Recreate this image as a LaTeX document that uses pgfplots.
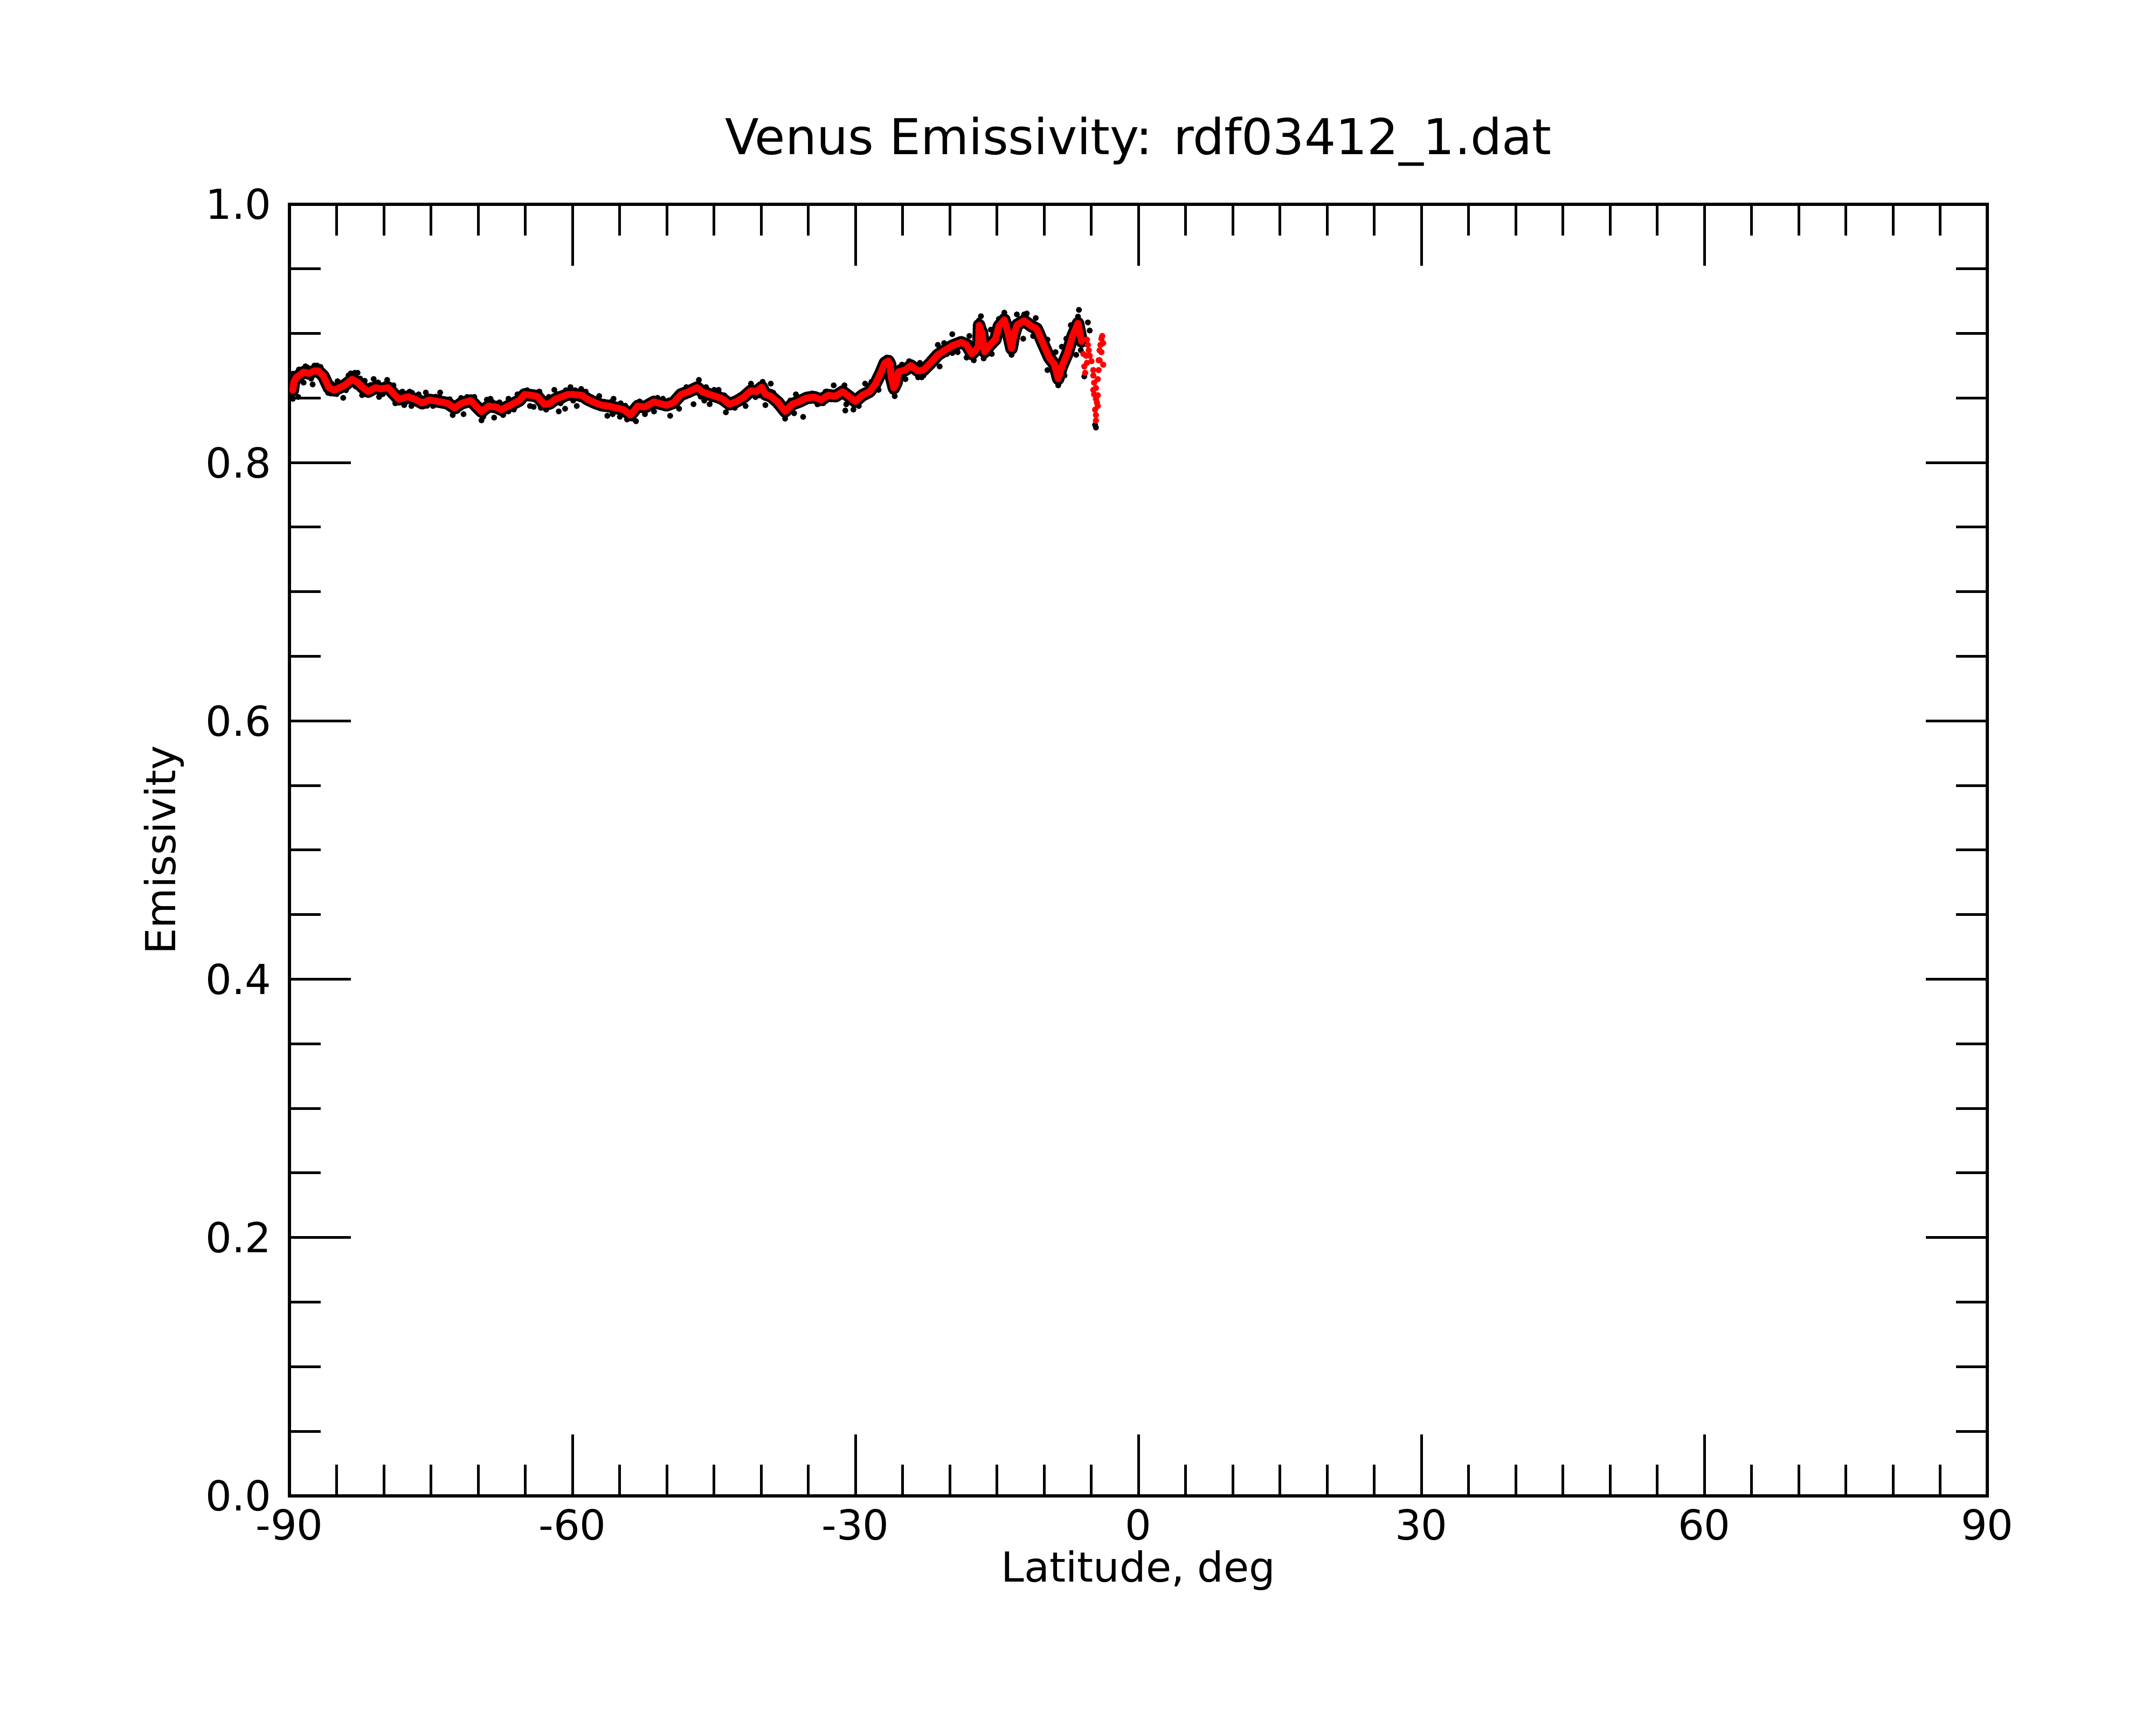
\documentclass[border=0pt]{standalone}
\usepackage{fontspec}
\setmainfont{DejaVu Sans}
\usepackage{pgfplots}
\usepackage{pgfplotstable}
\pgfplotsset{compat=1.18}

\pgfplotstableread{
lat e
-89.64 0.856
-89.54 0.862
-89.26 0.866
-88.50 0.870
-87.92 0.869
-87.35 0.871
-86.97 0.871
-86.40 0.867
-85.83 0.858
-85.26 0.856
-84.69 0.858
-84.11 0.860
-83.35 0.8645
-82.78 0.862
-82.21 0.858
-81.64 0.855
-80.88 0.858
-80.30 0.857
-79.54 0.858
-78.97 0.8534
-78.40 0.849
-77.45 0.851
-76.69 0.849
-75.92 0.846
-75.16 0.8485
-74.02 0.847
-73.26 0.846
-72.50 0.8423
-71.73 0.846
-70.78 0.848
-70.21 0.8437
-69.64 0.8395
-68.88 0.8437
-68.11 0.843
-67.54 0.841
-66.59 0.8444
-65.64 0.848
-65.07 0.8527
-64.30 0.852
-63.73 0.8513
-62.97 0.845
-62.40 0.8458
-61.83 0.849
-61.26 0.8506
-60.49 0.8527
-59.92 0.8527
-58.97 0.852
-58.40 0.849
-57.64 0.8464
-56.88 0.8444
-56.12 0.8437
-55.35 0.8423
-54.59 0.841
-53.83 0.8368
-53.07 0.8437
-52.31 0.843
-51.35 0.847
-50.78 0.8458
-50.02 0.8444
-49.26 0.8464
-48.49 0.8527
-47.73 0.8547
-46.78 0.858
-46.21 0.8547
-45.45 0.8527
-44.69 0.851
-44.11 0.8494
-43.35 0.8452
-42.59 0.8473
-41.83 0.8507
-41.07 0.8556
-40.50 0.8549
-39.92 0.8583
-39.54 0.8528
-38.97 0.8514
-38.21 0.8466
-37.45 0.8396
-36.69 0.8452
-35.92 0.8473
-35.16 0.850
-34.40 0.8507
-33.64 0.8486
-32.88 0.8521
-32.11 0.8514
-31.35 0.8549
-30.59 0.8507
-30.02 0.8473
-29.26 0.8521
-28.50 0.8549
-27.92 0.8604
-27.35 0.8688
-26.88 0.8771
-26.50 0.8786
-26.31 0.8758
-26.21 0.8661
-25.92 0.8577
-25.64 0.8619
-25.45 0.8702
-24.69 0.8717
-24.12 0.8751
-23.35 0.8709
-22.78 0.8716
-22.02 0.8772
-21.26 0.8834
-20.50 0.8869
-19.73 0.8904
-18.78 0.8931
-18.21 0.8911
-17.64 0.8841
-17.26 0.8869
-16.95 0.8900
-16.88 0.9064
-16.75 0.9030
-16.59 0.9008
-16.30 0.8857
-15.73 0.8911
-15.16 0.8953
-14.78 0.9057
-14.21 0.9105
-13.83 0.9008
-13.45 0.8883
-13.20 0.8980
-12.88 0.9064
-12.11 0.9098
-11.35 0.9057
-10.78 0.9036
-10.21 0.8938
-9.45 0.8813
-8.88 0.8758
-8.50 0.8649
-8.11 0.8745
-7.54 0.8841
-6.97 0.8980
-6.40 0.9078
-6.02 0.8938
}\redline

\pgfplotstableread{
lat e
-5.83 0.8841
-5.73 0.8744
-5.64 0.8695
-5.54 0.8827
-5.45 0.8952
-5.45 0.8772
-5.35 0.8911
-5.26 0.8869
-5.16 0.8827
-4.97 0.8785
-4.78 0.8716
-4.78 0.8674
-4.69 0.8618
-4.78 0.8563
-4.69 0.8528
-4.50 0.8577
-4.50 0.8493
-4.40 0.8465
-4.59 0.8410
-4.50 0.8368
-4.50 0.8326
-4.30 0.8438
-4.30 0.8521
-4.30 0.8646
-4.21 0.8716
-4.21 0.8792
-4.11 0.8792
-4.11 0.8869
-4.02 0.8911
-3.92 0.8959
-3.92 0.8855
-3.83 0.8980
-3.73 0.8925
-3.73 0.8758
}\redtail

\pgfplotstableread{
lat e
-89.64 0.8494
-89.64 0.8688
-89.40 0.8600
-89.07 0.8508
-89.00 0.8720
-88.80 0.8650
-88.50 0.8619
-88.30 0.8745
-88.11 0.8737
-87.70 0.8650
-87.54 0.8605
-87.35 0.8751
-87.07 0.8751
-86.70 0.8740
-86.20 0.8620
-85.90 0.8540
-85.64 0.8535
-85.50 0.8610
-85.00 0.8530
-84.90 0.8630
-84.69 0.8619
-84.50 0.8577
-84.30 0.8501
-84.00 0.8560
-83.73 0.8675
-83.50 0.8690
-83.07 0.8695
-83.00 0.8590
-82.78 0.8695
-82.50 0.8650
-82.30 0.8522
-82.02 0.8633
-81.90 0.8530
-81.40 0.8600
-81.07 0.8647
-80.97 0.8612
-80.60 0.8620
-80.50 0.8508
-80.10 0.8530
-79.80 0.8610
-79.64 0.8640
-79.30 0.8560
-78.97 0.8598
-78.78 0.8459
-78.60 0.8470
-78.20 0.8540
-78.02 0.8549
-77.83 0.8445
-77.60 0.8470
-77.26 0.8549
-77.07 0.8438
-77.00 0.8540
-76.40 0.8460
-76.30 0.8528
-76.00 0.8500
-75.54 0.8542
-75.40 0.8440
-74.78 0.8438
-74.50 0.8510
-74.11 0.8508
-74.02 0.8542
-73.70 0.8440
-73.00 0.8490
-72.69 0.8368
-72.20 0.8400
-71.92 0.8480
-71.80 0.8500
-71.54 0.8375
-71.16 0.8508
-71.00 0.8450
-70.50 0.8500
-70.40 0.8508
-69.90 0.8420
-69.64 0.8327
-69.45 0.8355
-69.30 0.8380
-69.07 0.8487
-68.69 0.8494
-68.50 0.8470
-68.30 0.8348
-67.90 0.8400
-67.73 0.8466
-67.35 0.8368
-67.10 0.8450
-66.78 0.8494
-66.78 0.8396
-66.30 0.8480
-66.21 0.8410
-65.90 0.8450
-65.83 0.8528
-65.30 0.8500
-65.26 0.8549
-64.80 0.8560
-64.50 0.8438
-64.11 0.8431
-64.00 0.8490
-63.73 0.8542
-63.50 0.8550
-63.35 0.8424
-63.10 0.8480
-62.78 0.8410
-62.60 0.8430
-62.50 0.8508
-62.10 0.8480
-61.92 0.8563
-61.60 0.8530
-61.45 0.8396
-61.26 0.8459
-61.00 0.8480
-60.78 0.8417
-60.70 0.8560
-60.21 0.8584
-60.20 0.8500
-59.92 0.8480
-59.70 0.8560
-59.54 0.8438
-59.20 0.8490
-59.07 0.8570
-58.70 0.8530
-58.59 0.8549
-58.20 0.8470
-58.02 0.8508
-57.90 0.8500
-57.64 0.8438
-57.30 0.8430
-57.16 0.8515
-56.60 0.8470
-56.30 0.8362
-56.00 0.8410
-55.90 0.8470
-55.73 0.8375
-55.64 0.8494
-55.10 0.8400
-54.97 0.8355
-54.88 0.8459
-54.40 0.8440
-54.21 0.8334
-54.00 0.8390
-53.60 0.8340
-53.40 0.8410
-53.26 0.8320
-52.88 0.8473
-52.70 0.8460
-52.31 0.8375
-52.00 0.8410
-51.70 0.8480
-51.35 0.8396
-51.10 0.8440
-50.97 0.8501
-50.60 0.8480
-50.40 0.8494
-50.20 0.8420
-49.80 0.8480
-49.64 0.8362
-49.00 0.8500
-48.69 0.8542
-48.69 0.8417
-48.30 0.8560
-48.00 0.8510
-47.92 0.8584
-47.50 0.8580
-47.16 0.8452
-47.00 0.8560
-46.59 0.8640
-46.40 0.8510
-46.02 0.8480
-45.90 0.8560
-45.83 0.8584
-45.45 0.8452
-45.20 0.8490
-44.97 0.8563
-44.80 0.8540
-44.50 0.8563
-44.30 0.8470
-43.90 0.8520
-43.73 0.8389
-43.10 0.8430
-42.80 0.8490
-42.78 0.8424
-42.20 0.8460
-41.90 0.8530
-41.64 0.8438
-41.30 0.8530
-41.07 0.8611
-40.80 0.8580
-40.59 0.8507
-40.20 0.8520
-39.83 0.8625
-39.70 0.8600
-39.54 0.8445
-39.30 0.8500
-38.97 0.8611
-38.97 0.8549
-38.70 0.8540
-38.40 0.8440
-37.90 0.8450
-37.60 0.8370
-37.45 0.8340
-37.20 0.8420
-36.90 0.8480
-36.50 0.8382
-36.40 0.8440
-36.31 0.8528
-35.80 0.8500
-35.54 0.8354
-35.35 0.8507
-35.30 0.8470
-34.80 0.8530
-34.59 0.8535
-34.20 0.8480
-34.02 0.8451
-33.90 0.8520
-33.40 0.8460
-33.16 0.8549
-33.00 0.8550
-32.60 0.8490
-32.30 0.8598
-32.00 0.8540
-31.60 0.8520
-31.20 0.8570
-31.16 0.8598
-31.07 0.8403
-30.97 0.8451
-30.80 0.8480
-30.40 0.8530
-30.21 0.8410
-29.90 0.8450
-29.64 0.8438
-29.50 0.8500
-29.00 0.8550
-28.97 0.8611
-28.70 0.8520
-28.30 0.8625
-28.20 0.8580
-27.80 0.8570
-27.54 0.8563
-27.50 0.8650
-27.10 0.8700
-26.95 0.8800
-26.69 0.8813
-26.60 0.8810
-26.40 0.8720
-26.10 0.8550
-25.83 0.8514
-25.80 0.8600
-25.50 0.8650
-25.30 0.8740
-25.07 0.8758
-24.90 0.8690
-24.69 0.8646
-24.50 0.8750
-24.30 0.8785
-24.00 0.8720
-23.73 0.8758
-23.60 0.8740
-23.35 0.8660
-23.16 0.8772
-23.00 0.8690
-22.97 0.8660
-22.78 0.8674
-22.50 0.8750
-22.20 0.8730
-21.70 0.8820
-21.40 0.8800
-21.26 0.8911
-21.07 0.8744
-20.90 0.8870
-20.59 0.8925
-20.30 0.8840
-20.00 0.8920
-19.73 0.8994
-19.73 0.8848
-19.50 0.8870
-19.16 0.8855
-19.00 0.8950
-18.50 0.8900
-18.21 0.8813
-18.00 0.8870
-17.92 0.8980
-17.90 0.8930
-17.73 0.8911
-17.50 0.8820
-17.45 0.8792
-17.10 0.8850
-16.90 0.9100
-16.69 0.9133
-16.40 0.8806
-16.20 0.8830
-16.00 0.8900
-15.90 0.8880
-15.64 0.9029
-15.54 0.8841
-15.40 0.8950
-15.00 0.9000
-14.78 0.9112
-14.60 0.9080
-14.40 0.9130
-14.21 0.9161
-14.00 0.9060
-13.70 0.8980
-13.60 0.8860
-13.45 0.8834
-13.30 0.8940
-13.00 0.9090
-12.88 0.9147
-12.60 0.9100
-12.40 0.9060
-12.21 0.8959
-12.11 0.9147
-11.90 0.9080
-11.83 0.9154
-11.60 0.9050
-11.16 0.8980
-11.10 0.9070
-10.90 0.9010
-10.88 0.9119
-10.50 0.8990
-10.21 0.9008
-10.00 0.8900
-9.80 0.8850
-9.64 0.8952
-9.64 0.8716
-9.30 0.8780
-9.10 0.8790
-8.90 0.8710
-8.78 0.8855
-8.70 0.8680
-8.50 0.8598
-8.40 0.8620
-8.30 0.8700
-8.11 0.8897
-8.00 0.8760
-7.83 0.8674
-7.70 0.8810
-7.64 0.8959
-7.40 0.8880
-7.20 0.8930
-7.16 0.9064
-6.80 0.9010
-6.60 0.9100
-6.59 0.8834
-6.40 0.9130
-6.30 0.9182
-6.20 0.9030
-6.10 0.8870
-5.73 0.8667
-5.35 0.9085
-5.16 0.9022
-4.59 0.8292
-4.50 0.8271
}\blackpts

\begin{document}
\begin{tikzpicture}
\useasboundingbox (-96.66bp,-76.5bp) rectangle (623.34bp,499.5bp);
\begin{axis}[
  scale only axis,
  width=567bp, height=431.3bp,
  xmin=-90, xmax=90, ymin=0, ymax=1,
  clip marker paths=true,
  xtick={-90,-60,-30,0,30,60,90},
  xticklabels={{-90},{-60},{-30},0,30,60,90},
  ytick={0,0.2,0.4,0.6,0.8,1.0},
  yticklabels={0.0,0.2,0.4,0.6,0.8,1.0},
  minor x tick num=5, minor y tick num=3,
  tick align=inside,
  major tick length=20.5bp, minor tick length=10.5bp,
  axis line style={line width=0.95bp},
  every tick/.append style={line width=0.9bp, black},
  tick label style={font=\fontsize{13.8bp}{16bp}\selectfont},
  xticklabel style={anchor=north, inner sep=0pt, yshift=-4.2bp},
  yticklabel style={anchor=east, inner sep=0pt, xshift=-5.8bp},
  every axis title shift=0pt,
  title={Venus Emissivity: rdf03412\_1.dat},
  title style={at={(axis description cs:0.5,1.0387)}, anchor=base, inner sep=0pt, yshift=0pt, font=\fontsize{16.5bp}{19bp}\selectfont},
  xlabel={Latitude, deg},
  ylabel={Emissivity},
  every axis x label/.style={at={(axis description cs:0.5,-0.06678)}, anchor=base, inner sep=0pt, font=\fontsize{13.8bp}{16bp}\selectfont},
  every axis y label/.style={at={(axis description cs:-0.06702,0.5)}, rotate=90, anchor=base, inner sep=0pt, font=\fontsize{13.8bp}{16bp}\selectfont},
]
\addplot[black, line width=4.2bp, line join=round, line cap=round] table[x=lat,y=e] {\redline};
\addplot[only marks, mark=*, mark size=0.9bp, black, mark options={line width=0.2bp}] table[x=lat,y=e] {\blackpts};
\addplot[red, line width=2.3bp, line join=round, line cap=round] table[x=lat,y=e] {\redline};
\addplot[only marks, mark=*, mark size=0.95bp, red, mark options={line width=0.2bp}] table[x=lat,y=e] {\redtail};
\end{axis}
\end{tikzpicture}
\end{document}
